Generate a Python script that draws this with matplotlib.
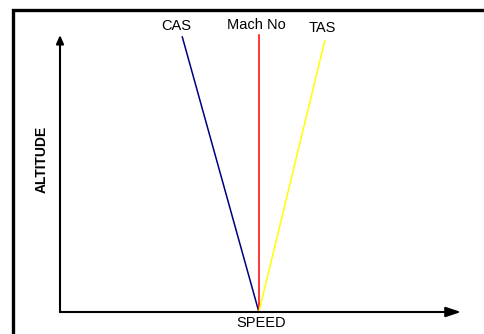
import matplotlib
matplotlib.use('Agg')
import matplotlib.pyplot as plt
from matplotlib.patches import Rectangle

plt.rcParams['font.family'] = ['Liberation Sans', 'DejaVu Sans']

# --- DATA (schematic: speed vs altitude, 0-100 units) ---
line_names = ['CAS', 'Mach No', 'TAS']
line_colors = ['#000080', '#FF0000', '#FFFF00']
base_speed = [49.6, 49.6, 49.6]
top_speed = [30.5, 49.6, 66.0]
top_alt = [99.3, 100, 97.8]
label_speed = [29.0, 49.0, 65.4]
label_alt = [100.8, 101.2, 100.0]

fig = plt.figure(figsize=(4.84, 3.34), dpi=100)
fig.patch.set_facecolor('white')

# outer frame (cut off on the right and bottom)
fig.patches.append(Rectangle((13 / 484, -0.1), 1.0, 1 - 10 / 334 + 0.1,
                             transform=fig.transFigure, fill=False,
                             edgecolor='black', linewidth=2.4))

ax = fig.add_axes([60 / 484, 22 / 334, 401 / 484, 277 / 334])
ax.set_xlim(0, 100)
ax.set_ylim(0, 100)
ax.axis('off')

# axes arrows
ax.annotate('', xy=(0, 100), xytext=(0, 0),
            arrowprops=dict(arrowstyle='-|>,head_length=0.5,head_width=0.22',
                            color='black', lw=1.5, shrinkA=0, shrinkB=0),
            annotation_clip=False)
ax.annotate('', xy=(100, 0), xytext=(0, 0),
            arrowprops=dict(arrowstyle='-|>,head_length=0.9,head_width=0.3',
                            color='black', lw=1.5, shrinkA=0, shrinkB=0),
            annotation_clip=False)

for name, c, x0, x1, y1, lx, ly in zip(line_names, line_colors, base_speed,
                                       top_speed, top_alt, label_speed, label_alt):
    ax.plot([x0, x1], [0, y1], color=c, lw=1.1, clip_on=False)
    ax.text(lx, ly, name, ha='center', va='bottom', fontsize=10.5, clip_on=False)

ax.text(50.2, -1.5, 'SPEED', ha='center', va='top', fontsize=10.5)
ax.text(-4.5, 55, 'ALTITUDE', ha='center', va='center', rotation=90,
        fontsize=10, fontweight='bold')

fig.savefig('out.png', dpi=100)
